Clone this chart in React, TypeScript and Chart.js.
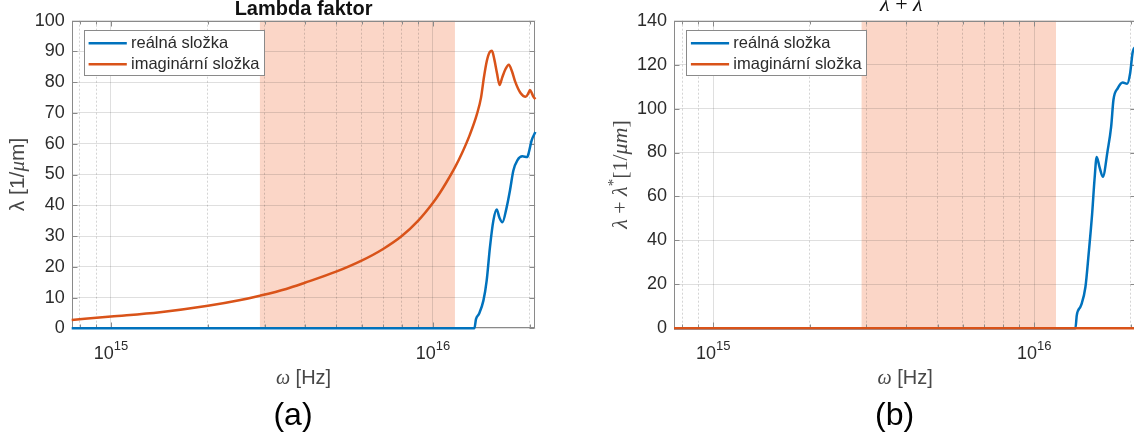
import React, { useEffect, useRef } from "react";
import { Chart, registerables } from "chart.js";

Chart.register(...registerables);

// ---------- data ----------
const xMin = 7.55e14;
const xMax = 2.08e16;
const xGridTicks = [8e14, 9e14, 1e15, 2e15, 3e15, 4e15, 5e15, 6e15, 7e15, 8e15, 9e15, 1e16, 2e16];
const xMajorTicks = [1e15, 1e16];
const xMajorExponents = ["15", "16"];
const shadeRange = [2.9e15, 1.17e16];
const seriesNames = ["reálná složka", "imaginární složka"];
const captions = ["(a)", "(b)"];

// panel (a): Lambda faktor
const aRealFreq = [7.55e14, 1.345e16, 1.36e16, 1.39e16, 1.434e16, 1.468e16, 1.503e16, 1.54e16, 1.577e16, 1.608e16, 1.643e16, 1.694e16, 1.734e16, 1.777e16, 1.828e16, 1.895e16, 1.963e16, 1.986e16, 2.025e16, 2.08e16];
const aRealVal = [0, 0, 3.0, 4.7, 9.0, 15.5, 26.4, 35.0, 38.6, 36.0, 34.5, 39.4, 44.8, 51.3, 54.6, 55.9, 55.7, 57.3, 61.1, 63.8];
const aImagFreq = [7.55e14, 1e15, 1.42e15, 2e15, 2.5e15, 2.9e15, 3.5e15, 4e15, 5e15, 6e15, 7e15, 8e15, 9e15, 1e16, 1.05e16, 1.1e16, 1.17e16, 1.23e16, 1.3e16, 1.37e16, 1.41e16, 1.44e16, 1.47e16, 1.5e16, 1.525e16, 1.55e16, 1.58e16, 1.61e16, 1.64e16, 1.68e16, 1.72e16, 1.76e16, 1.8e16, 1.87e16, 1.94e16, 1.98e16, 2.0e16, 2.03e16, 2.05e16, 2.08e16];
const aImagVal = [2.7, 3.8, 5.2, 7.3, 9.1, 10.6, 12.8, 14.8, 18.4, 22.0, 25.8, 30.0, 35.0, 40.8, 44.0, 47.4, 52.3, 56.9, 62.8, 69.7, 75.0, 81.7, 87.0, 89.8, 90.2, 87.5, 83.0, 79.1, 81.5, 84.3, 85.7, 83.5, 80.2, 76.5, 75.3, 76.5, 77.5, 76.3, 75.3, 74.5];
const aYMax = 100;
const aYStep = 10;

// panel (b): lambda + lambda*
const bRealFreq = [7.55e14, 1.345e16, 1.358e16, 1.401e16, 1.445e16, 1.479e16, 1.516e16, 1.542e16, 1.567e16, 1.598e16, 1.637e16, 1.695e16, 1.738e16, 1.767e16, 1.823e16, 1.888e16, 1.949e16, 1.991e16, 2.03e16, 2.08e16];
const bRealVal = [0, 0, 5.9, 10.5, 18.8, 34.0, 52.0, 67.5, 78.0, 73.5, 69.0, 81.0, 91.8, 104.0, 109.3, 111.9, 111.3, 116.0, 126.0, 128.5];
const bImagFreq = [7.55e14, 2.08e16];
const bImagVal = [0, 0];
const bYMax = 140;
const bYStep = 20;

// ---------- styling ----------
const SANS = '"Liberation Sans", Arial, Helvetica, sans-serif';
const SERIF = '"Liberation Serif", "Times New Roman", serif';
const BLUE = "#0072BD";
const ORANGE = "#D95319";
const SHADE = "rgb(251, 214, 199)";
const GRID_MAJOR = "rgba(38,38,38,0.15)";
const GRID_MINOR = "rgba(38,38,38,0.2)";
const BOX = "#8a8a8a";
const TICK_COLOR = "#2b2b2b";
const LABEL_COLOR = "#474747";
const X_AXIS_H = 70;

type Seg = { t: string; f: string; dy?: number };

interface Panel {
  realX: number[];
  realY: number[];
  imagX: number[];
  imagY: number[];
  yMax: number;
  yStep: number;
  title: Seg[];
  titleBaseline: number;
  yTitle: Seg[];
  width: number;
  height: number;
  area: { left: number; right: number; top: number; bottom: number };
}

const panelA: Panel = {
  realX: aRealFreq,
  realY: aRealVal,
  imagX: aImagFreq,
  imagY: aImagVal,
  yMax: aYMax,
  yStep: aYStep,
  title: [{ t: "Lambda faktor", f: `bold 20px ${SANS}` }],
  titleBaseline: 14.5,
  yTitle: [
    { t: "λ [1/", f: `21px ${SANS}` },
    { t: "μ", f: `italic 21px ${SERIF}` },
    { t: "m]", f: `21px ${SANS}` },
  ],
  width: 560,
  height: 441,
  area: { left: 71.7, right: 535.4, top: 20.7, bottom: 328.3 },
};

const panelB: Panel = {
  realX: bRealFreq,
  realY: bRealVal,
  imagX: bImagFreq,
  imagY: bImagVal,
  yMax: bYMax,
  yStep: bYStep,
  title: [
    { t: "λ", f: `italic 22px ${SERIF}` },
    { t: " + ", f: `22px ${SERIF}` },
    { t: "λ", f: `italic 22px ${SERIF}` },
    { t: "*", f: `15px ${SERIF}`, dy: -8 },
  ],
  titleBaseline: 11,
  yTitle: [
    { t: "λ", f: `italic 22px ${SERIF}` },
    { t: " + ", f: `22px ${SERIF}` },
    { t: "λ", f: `italic 22px ${SERIF}` },
    { t: "*", f: `15px ${SERIF}`, dy: -9 },
    { t: "[1/", f: `22px ${SERIF}` },
    { t: "μm", f: `italic 22px ${SERIF}` },
    { t: "]", f: `22px ${SERIF}` },
  ],
  width: 590,
  height: 441,
  area: { left: 114, right: 576.2, top: 20.7, bottom: 328.3 },
};

function drawSegs(ctx: CanvasRenderingContext2D, segs: Seg[], cx: number, cy: number, rot: number, color: string) {
  ctx.save();
  ctx.translate(cx, cy);
  if (rot) ctx.rotate(rot);
  ctx.textAlign = "left";
  ctx.textBaseline = "alphabetic";
  ctx.fillStyle = color;
  const ws = segs.map((s) => {
    ctx.font = s.f;
    return ctx.measureText(s.t).width;
  });
  let x = -ws.reduce((a, b) => a + b, 0) / 2;
  segs.forEach((s, i) => {
    ctx.font = s.f;
    ctx.fillText(s.t, x, s.dy || 0);
    x += ws[i];
  });
  ctx.restore();
}

const isMajor = (v: number | undefined) => v !== undefined && xMajorTicks.includes(v);

function LambdaChart({ panel }: { panel: Panel }) {
  const ref = useRef<HTMLCanvasElement>(null);

  useEffect(() => {
    const canvas = ref.current;
    if (!canvas) return;
    const p = panel;

    const decor = {
      id: "decor",
      beforeDraw(chart: any) {
        const { ctx, chartArea, scales } = chart;
        const x0 = scales.x.getPixelForValue(shadeRange[0]);
        const x1 = scales.x.getPixelForValue(shadeRange[1]);
        ctx.save();
        ctx.fillStyle = SHADE;
        ctx.fillRect(x0, chartArea.top, x1 - x0, chartArea.bottom - chartArea.top);
        ctx.restore();
      },
      beforeDatasetsDraw(chart: any) {
        const { ctx, chartArea: a, scales } = chart;
        ctx.save();
        ctx.strokeStyle = BOX;
        ctx.lineWidth = 1;
        const L = Math.round(a.left) + 0.5;
        const R = Math.round(a.right) - 0.5;
        const T = Math.round(a.top) + 0.5;
        const B = Math.round(a.bottom) - 0.5;
        ctx.strokeRect(L, T, R - L, B - T);
        ctx.beginPath();
        for (let v = 0; v <= p.yMax; v += p.yStep) {
          const py = Math.round(scales.y.getPixelForValue(v)) + 0.5;
          ctx.moveTo(L, py);
          ctx.lineTo(L + 5, py);
          ctx.moveTo(R, py);
          ctx.lineTo(R - 5, py);
        }
        xGridTicks.forEach((v) => {
          const px = Math.round(scales.x.getPixelForValue(v)) + 0.5;
          const len = isMajor(v) ? 5 : 3;
          ctx.moveTo(px, B);
          ctx.lineTo(px, B - len);
          ctx.moveTo(px, T);
          ctx.lineTo(px, T + len);
        });
        ctx.stroke();
        ctx.restore();
      },
      afterDatasetsDraw(chart: any) {
        const { ctx, chartArea: a } = chart;
        ctx.save();
        const lx = a.left + 12.3;
        const ly = a.top + 9.3;
        ctx.font = `16.5px ${SANS}`;
        const tw = Math.max(...seriesNames.map((n) => ctx.measureText(n).width));
        const w = Math.round(47 + tw + 5);
        const h = 45;
        ctx.fillStyle = "#fff";
        ctx.fillRect(lx, ly, w, h);
        ctx.strokeStyle = BOX;
        ctx.lineWidth = 1;
        ctx.strokeRect(Math.round(lx) + 0.5, Math.round(ly) + 0.5, w, h);
        const colors = [BLUE, ORANGE];
        const rows = [ly + 13.3, ly + 34.3];
        seriesNames.forEach((n, i) => {
          ctx.strokeStyle = colors[i];
          ctx.lineWidth = 2.5;
          ctx.beginPath();
          ctx.moveTo(lx + 4.6, rows[i]);
          ctx.lineTo(lx + 42.8, rows[i]);
          ctx.stroke();
          ctx.fillStyle = TICK_COLOR;
          ctx.textBaseline = "middle";
          ctx.textAlign = "left";
          ctx.fillText(n, lx + 47, rows[i] + 0.5);
        });
        ctx.restore();
      },
      afterDraw(chart: any) {
        const { ctx, chartArea: a, scales } = chart;
        const cx = (a.left + a.right) / 2;
        // title
        drawSegs(ctx, p.title, cx, p.titleBaseline, 0, "#111");
        // x tick labels 10^n
        xMajorTicks.forEach((v, i) => {
          const px = scales.x.getPixelForValue(v);
          drawSegs(
            ctx,
            [
              { t: "10", f: `18px ${SANS}` },
              { t: xMajorExponents[i], f: `13px ${SANS}`, dy: -9.5 },
            ],
            px,
            a.bottom + 31,
            0,
            TICK_COLOR
          );
        });
        // x axis title
        drawSegs(
          ctx,
          [
            { t: "ω", f: `italic 20px ${SERIF}` },
            { t: " [Hz]", f: `20px ${SANS}` },
          ],
          cx,
          a.bottom + 56,
          0,
          LABEL_COLOR
        );
        // y axis title
        drawSegs(ctx, p.yTitle, a.left - 47.5, (a.top + a.bottom) / 2, -Math.PI / 2, LABEL_COLOR);
      },
    };

    const chart = new Chart(canvas, {
      type: "line",
      data: {
        datasets: [
          {
            label: seriesNames[0],
            data: p.realX.map((x, i) => ({ x, y: p.realY[i] })),
            borderColor: BLUE,
            backgroundColor: BLUE,
            borderWidth: 2.5,
            pointRadius: 0,
            cubicInterpolationMode: "monotone",
            fill: false,
            clip: 3,
            order: 1,
          },
          {
            label: seriesNames[1],
            data: p.imagX.map((x, i) => ({ x, y: p.imagY[i] })),
            borderColor: ORANGE,
            backgroundColor: ORANGE,
            borderWidth: 2.5,
            pointRadius: 0,
            cubicInterpolationMode: "monotone",
            fill: false,
            clip: 3,
            order: 0,
          },
        ],
      },
      options: {
        responsive: false,
        animation: false,
        devicePixelRatio: 1,
        events: [],
        layout: {
          padding: {
            left: 0,
            top: p.area.top,
            right: p.width - p.area.right,
            bottom: p.height - p.area.bottom - X_AXIS_H,
          },
        },
        plugins: {
          legend: { display: false },
          tooltip: { enabled: false },
          title: { display: false },
        },
        scales: {
          x: {
            type: "logarithmic",
            min: xMin,
            max: xMax,
            afterBuildTicks: (s: any) => {
              s.ticks = xGridTicks.map((v) => ({ value: v }));
            },
            afterFit: (s: any) => {
              s.height = X_AXIS_H;
            },
            ticks: { display: false },
            grid: {
              drawTicks: false,
              lineWidth: 1,
              color: (c: any) => (isMajor(c.tick?.value) ? GRID_MAJOR : GRID_MINOR),
            },
            border: {
              display: false,
              dash: (c: any) => (isMajor(c.tick?.value) ? [] : [2, 2]),
            },
          },
          y: {
            type: "linear",
            min: 0,
            max: p.yMax,
            afterFit: (s: any) => {
              s.width = p.area.left;
            },
            ticks: {
              stepSize: p.yStep,
              color: TICK_COLOR,
              font: { family: SANS, size: 18 },
              padding: 7,
            },
            grid: { drawTicks: false, color: GRID_MAJOR, lineWidth: 1 },
            border: { display: false },
          },
        },
      } as any,
      plugins: [decor],
    });

    return () => chart.destroy();
  }, [panel]);

  return <canvas ref={ref} width={panel.width} height={panel.height} style={{ display: "block" }} />;
}

const captionStyle = (cx: number): React.CSSProperties => ({
  position: "absolute",
  left: cx,
  top: 398.4,
  transform: "translateX(-50%)",
  fontFamily: SANS,
  fontSize: 32,
  lineHeight: "32px",
  color: "#000",
  whiteSpace: "nowrap",
});

export default function App() {
  return (
    <div
      style={{
        position: "fixed",
        left: 0,
        top: 0,
        width: 1134,
        height: 441,
        overflow: "hidden",
        background: "#fff",
      }}
    >
      <div style={{ position: "absolute", left: 0, top: 0 }}>
        <LambdaChart panel={panelA} />
      </div>
      <div style={{ position: "absolute", left: 560, top: 0 }}>
        <LambdaChart panel={panelB} />
      </div>
      <div style={captionStyle(293)}>{captions[0]}</div>
      <div style={captionStyle(894.6)}>{captions[1]}</div>
    </div>
  );
}
